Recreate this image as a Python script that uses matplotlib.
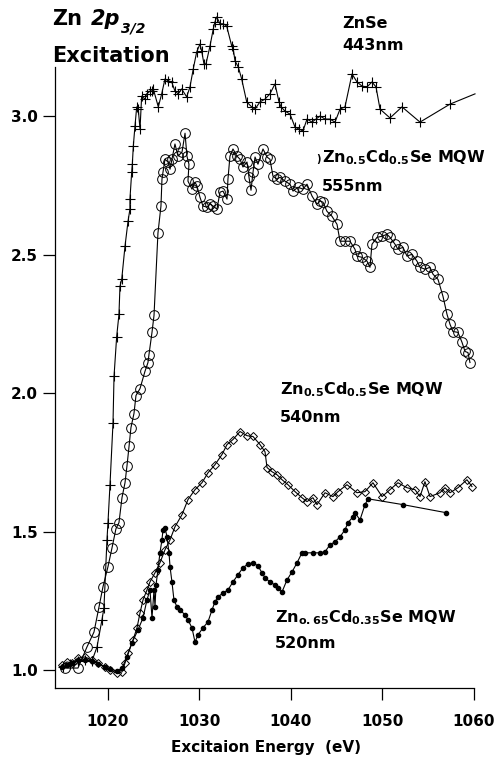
import matplotlib
matplotlib.use("Agg")
import matplotlib.pyplot as plt

# ---------------- data ----------------
# ZnSe 443nm (plus markers)
znse_E = [1015.08, 1015.85, 1016.72, 1017.49, 1018.25, 1018.80, 1019.34, 1019.56, 1019.89, 1020.00,
          1020.22, 1020.55, 1020.66, 1020.95, 1021.20, 1021.31, 1021.50, 1021.86, 1022.19, 1022.40,
          1022.40, 1022.59, 1022.66, 1022.77, 1022.95, 1023.14, 1023.31, 1023.50, 1023.68, 1024.04,
          1024.23, 1024.59, 1024.78, 1024.95, 1025.50, 1025.87, 1026.23, 1026.59, 1026.96, 1027.32,
          1027.68, 1028.05, 1028.60, 1028.96, 1029.32, 1029.69, 1030.05, 1030.24, 1030.49, 1030.71,
          1031.15, 1031.51, 1031.69, 1031.88, 1032.24, 1032.60, 1032.97, 1033.52, 1033.69, 1033.88,
          1034.24, 1034.61, 1035.16, 1035.70, 1036.07, 1036.61, 1037.16, 1037.70, 1038.25, 1038.69,
          1038.91, 1039.34, 1039.89, 1040.44, 1040.87, 1041.31, 1041.75, 1042.30, 1042.73, 1043.17,
          1043.72, 1044.26, 1044.81, 1045.36, 1045.90, 1046.67, 1047.21, 1047.76, 1048.31, 1048.85,
          1049.29, 1049.73, 1050.82, 1052.13, 1054.10, 1057.38, 1060.11]
znse_I = [1.011, 1.022, 1.033, 1.036, 1.033, 1.083, 1.181, 1.224, 1.470, 1.532,
          1.669, 1.893, 2.060, 2.204, 2.284, 2.385, 2.410, 2.530, 2.620, 2.664,
          2.700, 2.797, 2.826, 2.892, 2.964, 3.033, 3.025, 2.953, 3.072, 3.061,
          3.080, 3.090, 3.090, 3.098, 3.033, 3.080, 3.134, 3.127, 3.123, 3.090,
          3.080, 3.098, 3.069, 3.105, 3.170, 3.231, 3.260, 3.235, 3.188, 3.188,
          3.253, 3.315, 3.340, 3.358, 3.333, 3.333, 3.325, 3.253, 3.242, 3.199,
          3.177, 3.134, 3.051, 3.033, 3.025, 3.051, 3.061, 3.080, 3.116, 3.051,
          3.033, 3.018, 3.007, 2.960, 2.953, 2.946, 2.989, 2.978, 2.989, 3.000,
          2.989, 2.989, 2.978, 3.025, 3.033, 3.152, 3.123, 3.108, 3.105, 3.123,
          3.105, 3.025, 2.993, 3.033, 2.978, 3.043, 3.080]

# Zn0.5Cd0.5Se MQW 555nm (open circles)
c555_E = [1015.30, 1016.72, 1017.70, 1018.47, 1019.02, 1019.45, 1020.00, 1020.44, 1020.87, 1021.20,
          1021.53, 1021.86, 1022.08, 1022.30, 1022.51, 1022.84, 1023.06, 1023.50, 1024.04, 1024.37,
          1024.48, 1024.81, 1025.03, 1025.46, 1025.79, 1025.90, 1026.01, 1026.23, 1026.56, 1026.78,
          1026.99, 1027.32, 1027.65, 1028.09, 1028.42, 1028.63, 1028.85, 1028.74, 1029.18, 1029.51,
          1029.73, 1030.05, 1030.38, 1030.82, 1031.15, 1031.48, 1031.91, 1032.24, 1032.57, 1033.01,
          1033.11, 1033.33, 1033.66, 1034.10, 1034.43, 1034.75, 1035.19, 1035.41, 1035.63, 1035.85,
          1036.07, 1036.39, 1036.94, 1037.38, 1037.70, 1038.03, 1038.47, 1038.80, 1039.34, 1039.89,
          1040.22, 1040.77, 1041.31, 1041.75, 1042.30, 1042.84, 1043.17, 1043.50, 1043.93, 1044.48,
          1045.03, 1045.36, 1045.90, 1046.45, 1046.99, 1047.21, 1047.76, 1048.31, 1048.63, 1048.85,
          1049.40, 1049.95, 1050.49, 1050.82, 1051.37, 1051.69, 1052.24, 1052.68, 1053.22, 1053.77,
          1054.10, 1054.64, 1055.19, 1055.52, 1056.07, 1056.61, 1057.05, 1057.38, 1057.70, 1058.25,
          1058.69, 1059.02, 1059.34, 1059.56]
c555_I = [1.007, 1.007, 1.083, 1.137, 1.228, 1.300, 1.373, 1.441, 1.510, 1.532,
          1.622, 1.676, 1.738, 1.807, 1.875, 1.926, 1.991, 2.016, 2.078, 2.110,
          2.139, 2.219, 2.280, 2.577, 2.675, 2.772, 2.797, 2.844, 2.834, 2.808,
          2.844, 2.899, 2.855, 2.870, 2.938, 2.855, 2.826, 2.765, 2.736, 2.761,
          2.747, 2.707, 2.675, 2.671, 2.682, 2.675, 2.664, 2.725, 2.729, 2.700,
          2.772, 2.855, 2.881, 2.855, 2.844, 2.816, 2.834, 2.779, 2.732, 2.797,
          2.852, 2.826, 2.881, 2.852, 2.844, 2.783, 2.772, 2.779, 2.765, 2.754,
          2.729, 2.743, 2.736, 2.754, 2.711, 2.682, 2.693, 2.689, 2.656, 2.638,
          2.609, 2.548, 2.548, 2.548, 2.519, 2.494, 2.490, 2.476, 2.454, 2.537,
          2.562, 2.566, 2.573, 2.562, 2.537, 2.519, 2.526, 2.494, 2.501, 2.476,
          2.454, 2.447, 2.454, 2.429, 2.410, 2.349, 2.284, 2.248, 2.222, 2.219,
          2.183, 2.150, 2.146, 2.110]

# Zn0.5Cd0.5Se MQW 540nm (open diamonds)
d540_E = [1014.97, 1015.52, 1016.07, 1016.72, 1017.49, 1018.25, 1018.91, 1019.67, 1020.22, 1020.98,
          1021.53, 1021.86, 1022.19, 1022.73, 1023.17, 1023.50, 1023.83, 1024.26, 1024.59, 1025.14,
          1025.68, 1026.23, 1026.78, 1027.32, 1028.09, 1028.74, 1029.51, 1030.27, 1030.93, 1031.69,
          1032.46, 1033.01, 1033.66, 1034.43, 1035.19, 1035.85, 1036.61, 1037.16, 1037.38, 1037.92,
          1038.47, 1039.02, 1039.67, 1040.44, 1041.20, 1041.75, 1042.40, 1042.84, 1043.72, 1044.59,
          1045.14, 1046.12, 1047.21, 1048.09, 1048.96, 1049.95, 1050.82, 1051.69, 1052.68, 1053.55,
          1054.10, 1054.64, 1055.19, 1056.28, 1056.83, 1057.38, 1058.25, 1059.23, 1059.78]
d540_I = [1.018, 1.029, 1.025, 1.043, 1.047, 1.036, 1.025, 1.011, 1.000, 0.989,
          0.993, 1.025, 1.061, 1.108, 1.152, 1.206, 1.253, 1.289, 1.318, 1.351,
          1.387, 1.434, 1.470, 1.517, 1.561, 1.615, 1.651, 1.676, 1.712, 1.741,
          1.778, 1.814, 1.832, 1.861, 1.846, 1.843, 1.814, 1.788, 1.731, 1.716,
          1.705, 1.687, 1.669, 1.644, 1.622, 1.608, 1.622, 1.597, 1.640, 1.626,
          1.644, 1.669, 1.640, 1.644, 1.676, 1.626, 1.651, 1.676, 1.658, 1.651,
          1.626, 1.680, 1.626, 1.640, 1.658, 1.640, 1.658, 1.687, 1.662]

# Zn0.65Cd0.35Se MQW 520nm (small filled dots)
d520_E = [1014.97, 1015.52, 1016.07, 1016.72, 1017.49, 1018.25, 1018.91, 1019.67, 1020.22, 1020.98,
          1021.53, 1022.08, 1022.62, 1023.28, 1023.83, 1024.26, 1024.59, 1024.81, 1025.03, 1025.14,
          1025.25, 1025.46, 1025.68, 1025.90, 1026.01, 1026.23, 1026.45, 1026.67, 1026.78, 1026.99,
          1027.21, 1027.54, 1027.87, 1028.42, 1028.74, 1029.18, 1029.51, 1029.84, 1030.38, 1030.93,
          1031.37, 1031.69, 1032.02, 1032.57, 1033.11, 1033.66, 1034.21, 1034.75, 1035.30, 1035.85,
          1036.39, 1036.83, 1037.16, 1037.70, 1038.25, 1038.58, 1039.02, 1039.56, 1040.11, 1040.66,
          1041.20, 1041.53, 1042.40, 1043.17, 1043.72, 1044.26, 1044.81, 1045.36, 1045.90, 1046.23,
          1046.78, 1046.99, 1047.54, 1048.09, 1048.42, 1052.24, 1056.94]
d520_I = [1.011, 1.018, 1.025, 1.036, 1.036, 1.033, 1.022, 1.011, 1.004, 0.996,
          1.007, 1.047, 1.098, 1.145, 1.188, 1.253, 1.289, 1.188, 1.289, 1.228,
          1.307, 1.362, 1.423, 1.470, 1.506, 1.514, 1.481, 1.423, 1.373, 1.318,
          1.253, 1.228, 1.217, 1.199, 1.181, 1.152, 1.101, 1.127, 1.152, 1.174,
          1.217, 1.246, 1.264, 1.278, 1.289, 1.318, 1.344, 1.369, 1.383, 1.387,
          1.376, 1.351, 1.333, 1.318, 1.307, 1.297, 1.282, 1.325, 1.354, 1.387,
          1.423, 1.423, 1.423, 1.423, 1.427, 1.452, 1.463, 1.481, 1.506, 1.532,
          1.553, 1.568, 1.542, 1.597, 1.618, 1.597, 1.568]

x_ticks = [1020, 1030, 1040, 1050, 1060]
y_ticks = [1.0, 1.5, 2.0, 2.5, 3.0]

# ---------------- figure ----------------
W, H = 497, 758
fig = plt.figure(figsize=(W / 100, H / 100), dpi=100)
L, R, B, T = 55, 474, 688, 67
ax = fig.add_axes([L / W, 1 - B / H, (R - L) / W, (B - T) / H])

bold = dict(family="DejaVu Sans", weight="bold")
lw = 0.8

ax.plot(znse_E, znse_I, color="black", lw=lw, marker="+", ms=7.5, mew=0.8,
        markevery=slice(0, len(znse_E) - 1), clip_on=False, zorder=3)
ax.plot(c555_E, c555_I, color="black", lw=lw, marker="o", ms=7, mfc="none",
        mec="black", mew=0.7, clip_on=False, zorder=3)
ax.plot(d540_E, d540_I, color="black", lw=lw, marker="D", ms=4.5, mfc="none",
        mec="black", mew=0.7, clip_on=False, zorder=3)
ax.plot(d520_E, d520_I, color="black", lw=lw, marker="o", ms=3, mfc="black",
        mec="black", clip_on=False, zorder=4)

ax.set_xlim(1014.21, 1060)
ax.set_ylim(0.935, 3.177)
ax.set_xticks(x_ticks)
ax.set_xticklabels([str(v) for v in x_ticks])
ax.set_yticks(y_ticks)
ax.set_yticklabels([f"{v:.1f}" for v in y_ticks])
for s in ("top", "right"):
    ax.spines[s].set_visible(False)
for s in ("left", "bottom"):
    ax.spines[s].set_linewidth(0.9)
ax.tick_params(axis="both", direction="out", length=8.5, width=0.9, labelsize=11)
ax.tick_params(axis="x", pad=10)
ax.tick_params(axis="y", pad=4)
for lab in ax.get_xticklabels() + ax.get_yticklabels():
    lab.set_fontfamily("DejaVu Sans")
    lab.set_fontweight("bold")

ax.set_xlabel("Excitaion Energy  (eV)", fontsize=11, **bold)
ax.xaxis.label.set_verticalalignment("baseline")
ax.xaxis.set_label_coords((266 - L) / (R - L), -(752 - B) / (B - T))


def ftext(px, py, s, size=11.5, **kw):
    kw2 = dict(bold)
    kw2.update(kw)
    fig.text(px / W, 1 - py / H, s, fontsize=size, ha="left", va="baseline", **kw2)


# Title
ftext(52, 25, "Zn", size=15)
ftext(91, 25, "2p", size=15, style="italic")
ftext(121, 33, "3/2", size=10, style="italic")
ftext(52, 62, "Excitation", size=15)

# Curve labels
ftext(342, 28, "ZnSe")
ftext(342, 50, "443nm")

ftext(316, 162, ")", size=7)
ftext(322, 162, r"Zn$_{\mathbf{0.5}}$Cd$_{\mathbf{0.5}}$Se MQW")
ftext(322, 191, "555nm")

ftext(280, 394, r"Zn$_{\mathbf{0.5}}$Cd$_{\mathbf{0.5}}$Se MQW")
ftext(280, 422, "540nm")

ftext(275, 622, r"Zn$_{\mathbf{o.65}}$Cd$_{\mathbf{0.35}}$Se MQW")
ftext(275, 648, "520nm")

fig.savefig("out.png", dpi=100)
